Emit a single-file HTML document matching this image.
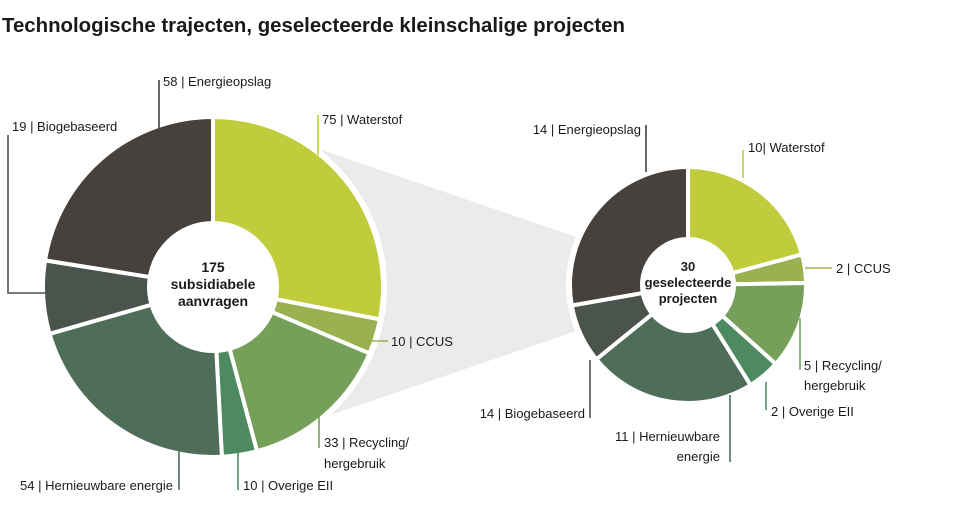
<!DOCTYPE html>
<html><head><meta charset="utf-8"><style>
body{margin:0;background:#fff;width:972px;height:513px;overflow:hidden}
svg text{font-family:"Liberation Sans",sans-serif;font-size:13px;fill:#1a1a1a}
</style></head><body>
<svg id="s" width="972" height="513" viewBox="0 0 972 513" xmlns="http://www.w3.org/2000/svg">
<text x="2" y="32" style="font-size:20.4px;font-weight:bold">Technologische trajecten, geselecteerde kleinschalige projecten</text>
<polygon points="213,113 688,275 688,293 213,455" fill="#ebebeb"/>
<g id="pies"></g>
<g stroke-width="1.6" fill="none">
<polyline points="159,128 159,80" stroke="#46413d"/>
<polyline points="47,293 8,293 8,135" stroke="#4a544c"/>
<polyline points="318,155 318,115" stroke="#c0cc3c"/>
<polyline points="366,341 388,341" stroke="#9bb050"/>
<polyline points="319,412 319,448" stroke="#76a05a"/>
<polyline points="238,450 238,490" stroke="#4e8a60"/>
<polyline points="179,450 179,490" stroke="#4e6e5a"/>
<polyline points="646,172 646,125" stroke="#46413d"/>
<polyline points="743,178 743,150" stroke="#c0cc3c"/>
<polyline points="805,268 832,268" stroke="#9bb050"/>
<polyline points="800,318 800,370" stroke="#76a05a"/>
<polyline points="766,382 766,410" stroke="#4e8a60"/>
<polyline points="730,395 730,462" stroke="#4e6e5a"/>
<polyline points="590,360 590,418" stroke="#4a544c"/>
</g>
<text x="163" y="86">58 | Energieopslag</text>
<text x="12" y="131">19 | Biogebaseerd</text>
<text x="322" y="124">75 | Waterstof</text>
<text x="391" y="346">10 | CCUS</text>
<text x="324" y="447">33 | Recycling/</text>
<text x="324" y="468">hergebruik</text>
<text x="243" y="490">10 | Overige EII</text>
<text x="173" y="490" text-anchor="end">54 | Hernieuwbare energie</text>
<text x="641" y="134" text-anchor="end">14 | Energieopslag</text>
<text x="748" y="152">10| Waterstof</text>
<text x="836" y="273">2 | CCUS</text>
<text x="804" y="370">5 | Recycling/</text>
<text x="804" y="390">hergebruik</text>
<text x="771" y="416">2 | Overige EII</text>
<text x="720" y="441" text-anchor="end">11 | Hernieuwbare</text>
<text x="720" y="461" text-anchor="end">energie</text>
<text x="585" y="418" text-anchor="end">14 | Biogebaseerd</text>
<g style="font-weight:bold;font-size:14px" text-anchor="middle">
<text x="213" y="272" style="font-size:14px">175</text>
<text x="213" y="289" style="font-size:14px">subsidiabele</text>
<text x="213" y="306" style="font-size:14px">aanvragen</text>
<text x="688" y="271" style="font-size:13px">30</text>
<text x="688" y="287" style="font-size:13px">geselecteerde</text>
<text x="688" y="303" style="font-size:13px">projecten</text>
</g>
</svg>
<script>
var C=["#c0cc3c","#9bb050","#76a05a","#4e8a60","#4e6e5a","#4a544c","#46413d"];
function pie(cx,cy,r,ri,angs){
 var g=document.getElementById("pies"),h="";
 h+='<circle cx="'+cx+'" cy="'+cy+'" r="'+(r+4)+'" fill="#fff"/>';
 function p(a,rr){a=a*Math.PI/180;return (cx+rr*Math.sin(a)).toFixed(2)+","+(cy-rr*Math.cos(a)).toFixed(2);}
 for(var i=0;i<7;i++){var a0=angs[i],a1=angs[i+1],l=(a1-a0)>180?1:0;
  h+='<path d="M'+cx+','+cy+' L'+p(a0,r)+' A'+r+','+r+' 0 '+l+' 1 '+p(a1,r)+' Z" fill="'+C[i]+'" stroke="#fff" stroke-width="4" stroke-linejoin="round"/>';}
 h+='<circle cx="'+cx+'" cy="'+cy+'" r="'+(r+1)+'" fill="none" stroke="#fff" stroke-width="4"/>';
 h+='<circle cx="'+cx+'" cy="'+cy+'" r="'+ri+'" fill="#fff"/>';
 g.insertAdjacentHTML("beforeend",h);
}
pie(213,287,170,66,[0,101,113,165,177,254,279,360]);
pie(688,285,118,48,[0,75,89,132,148,231,260,360]);
</script>
</body></html>
